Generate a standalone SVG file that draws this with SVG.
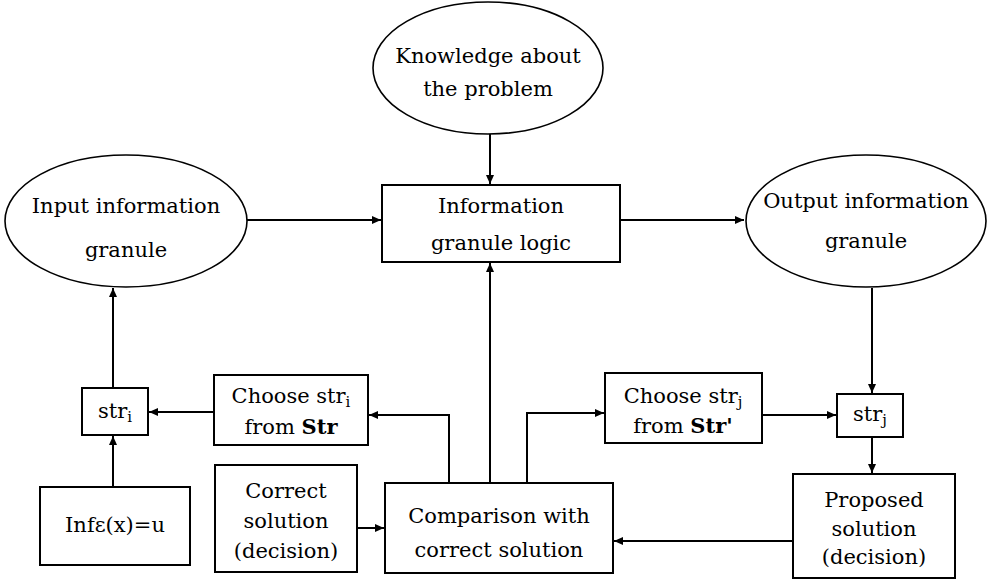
<svg xmlns="http://www.w3.org/2000/svg" width="989" height="581" viewBox="0 0 989 581">
<style>
.box{fill:#fff;stroke:#000;stroke-width:2}
.ell{fill:#fff;stroke:#000;stroke-width:1.6}
.t{font-family:"DejaVu Serif","Liberation Serif",serif;font-size:21px;fill:#000;text-anchor:middle}
.sub{font-size:15px}
.b{font-weight:bold}
.c{fill:none;stroke:#000;stroke-width:2}
</style>
<defs>
<marker id="ah" markerWidth="10" markerHeight="10" refX="9" refY="5" orient="auto" markerUnits="userSpaceOnUse">
<path d="M0,1 L9,5 L0,9 Z" fill="#000"/>
</marker>
</defs>
<rect width="989" height="581" fill="#fff"/>
<g id="connectors">
<path class="c" d="M490,134 L490,184" marker-end="url(#ah)"/>
<path class="c" d="M247,220 L381,220" marker-end="url(#ah)"/>
<path class="c" d="M620,220 L744,220" marker-end="url(#ah)"/>
<path class="c" d="M490,483 L490,263" marker-end="url(#ah)"/>
<path class="c" d="M449,483 L449,415 L369,415" marker-end="url(#ah)"/>
<path class="c" d="M214,412 L149,412" marker-end="url(#ah)"/>
<path class="c" d="M113,487 L113,436" marker-end="url(#ah)"/>
<path class="c" d="M113,388 L113,288" marker-end="url(#ah)"/>
<path class="c" d="M357,528 L384,528" marker-end="url(#ah)"/>
<path class="c" d="M527,483 L527,413 L604,413" marker-end="url(#ah)"/>
<path class="c" d="M762,415 L836,415" marker-end="url(#ah)"/>
<path class="c" d="M872,288 L872,393" marker-end="url(#ah)"/>
<path class="c" d="M872,437 L872,473" marker-end="url(#ah)"/>
<path class="c" d="M793,541 L614,541" marker-end="url(#ah)"/>
</g>
<g id="knowledge">
<ellipse class="ell" cx="488" cy="68" rx="115" ry="66"/>
<text class="t" x="488" y="63">Knowledge about</text>
<text class="t" x="488" y="96">the problem</text>
</g>
<g id="info-logic">
<rect class="box" x="382" y="185" width="238" height="77"/>
<text class="t" x="501" y="213">Information</text>
<text class="t" x="501" y="250">granule logic</text>
</g>
<g id="input-granule">
<ellipse class="ell" cx="126" cy="221" rx="121" ry="66"/>
<text class="t" x="126" y="213">Input information</text>
<text class="t" x="126" y="257">granule</text>
</g>
<g id="output-granule">
<ellipse class="ell" cx="866" cy="221" rx="120" ry="66"/>
<text class="t" x="866" y="208">Output information</text>
<text class="t" x="866" y="248">granule</text>
</g>
<g id="str-i">
<rect class="box" x="82" y="388" width="66" height="47"/>
<text class="t" x="115" y="418">str<tspan class="sub" dy="4">i</tspan></text>
</g>
<g id="choose-i">
<rect class="box" x="214" y="375" width="154" height="70"/>
<text class="t" x="291" y="403">Choose str<tspan class="sub" dy="4">i</tspan></text>
<text class="t" x="291" y="434">from <tspan class="b">Str</tspan></text>
</g>
<g id="inf">
<rect class="box" x="40" y="487" width="150" height="78"/>
<text class="t" x="115" y="532">Infε(x)=u</text>
</g>
<g id="correct">
<rect class="box" x="215" y="465" width="142" height="107"/>
<text class="t" x="286" y="498">Correct</text>
<text class="t" x="286" y="528">solution</text>
<text class="t" x="286" y="558">(decision)</text>
</g>
<g id="comparison">
<rect class="box" x="385" y="483" width="228" height="90"/>
<text class="t" x="499" y="523">Comparison with</text>
<text class="t" x="499" y="557">correct solution</text>
</g>
<g id="choose-j">
<rect class="box" x="605" y="373" width="157" height="70"/>
<text class="t" x="683" y="403">Choose str<tspan class="sub" dy="4">j</tspan></text>
<text class="t" x="683" y="433">from <tspan class="b">Str'</tspan></text>
</g>
<g id="str-j">
<rect class="box" x="837" y="394" width="66" height="43"/>
<text class="t" x="870" y="421">str<tspan class="sub" dy="4">j</tspan></text>
</g>
<g id="proposed">
<rect class="box" x="793" y="474" width="162" height="104"/>
<text class="t" x="874" y="507">Proposed</text>
<text class="t" x="874" y="536">solution</text>
<text class="t" x="874" y="564">(decision)</text>
</g>
</svg>
